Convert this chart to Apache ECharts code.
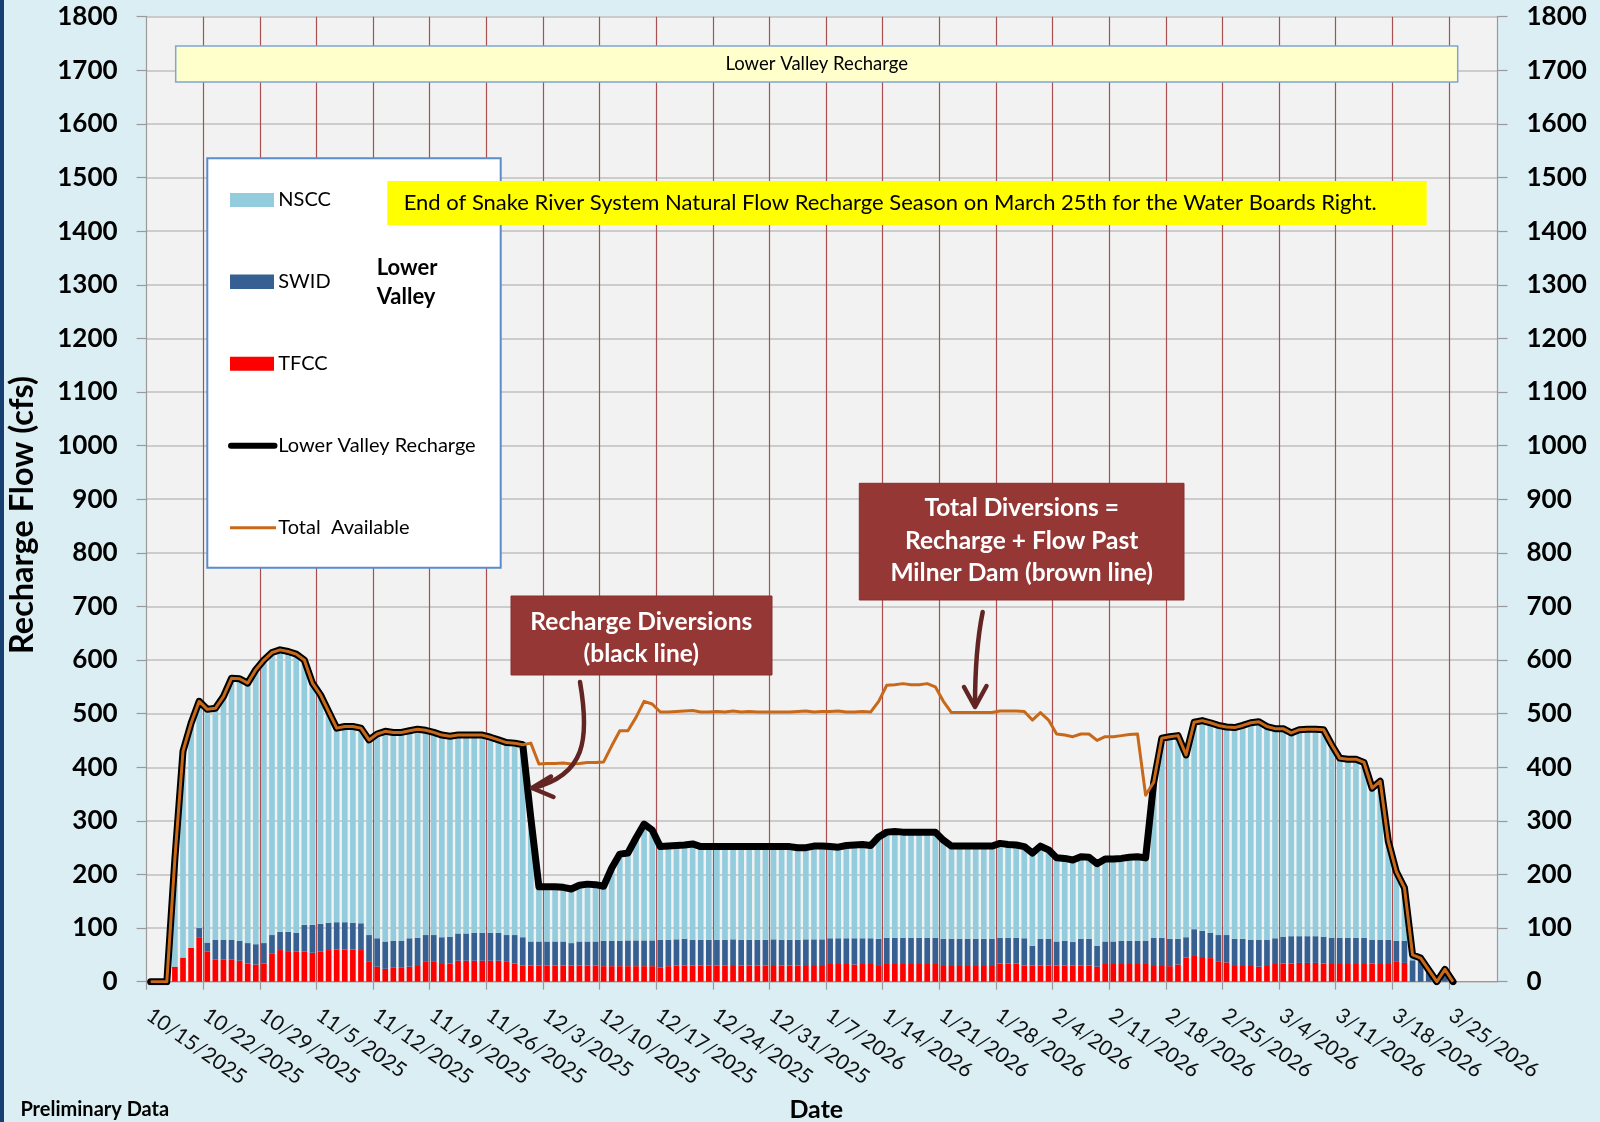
<!DOCTYPE html>
<html>
<head>
<meta charset="utf-8">
<title>Lower Valley Recharge</title>
<script src="https://cdn.jsdelivr.net/npm/echarts@6/dist/echarts.min.js"></script>
<style>
  html, body { margin: 0; padding: 0; background: #DAEEF3; }
  #chart { width: 1600px; height: 1122px; }
</style>
</head>
<body>
<div id="chart"></div>
<script>
// ---- Dates: one slot per day, 10/15/2025 .. 3/30/2026, plus the closing boundary 3/31/2026 ----
const tickDates = [];
for (let i = 0; i < 168; i++) {
  const d = new Date(Date.UTC(2025, 9, 15 + i));
  tickDates.push((d.getUTCMonth() + 1) + '/' + d.getUTCDate() + '/' + d.getUTCFullYear());
}
const days = tickDates.slice(0, 167);

// ---- Daily recharge diversions by canal company (cfs), 10/15/2025 .. 3/25/2026 ----
const tfcc = [
  0, 0, 0, 28, 45, 63, 83, 56, 41, 41,
  41, 39, 34, 32, 34, 52, 59, 57, 56, 56,
  54, 56, 59, 60, 60, 60, 59, 37, 28, 24,
  26, 26, 28, 31, 37, 37, 33, 34, 39, 39,
  39, 39, 39, 39, 37, 34, 30, 30, 30, 30,
  30, 30, 30, 30, 30, 30, 29, 29, 29, 29,
  29, 29, 29, 26, 29, 30, 30, 30, 30, 30,
  30, 30, 31, 30, 30, 30, 30, 31, 30, 30,
  30, 31, 31, 31, 33, 33, 33, 32, 33, 33,
  31, 33, 33, 33, 33, 33, 33, 33, 31, 31,
  31, 31, 31, 31, 31, 34, 34, 34, 30, 30,
  30, 30, 30, 30, 30, 30, 30, 28, 33, 33,
  33, 33, 33, 33, 31, 31, 29, 32, 45, 48,
  46, 44, 37, 36, 31, 31, 31, 28, 31, 33,
  34, 34, 35, 35, 35, 34, 33, 33, 33, 33,
  33, 34, 33, 33, 37, 35, 0, 0, 0, 0,
  0, 0
];
const swid = [
  0, 0, 0, 0, 0, 0, 17, 17, 37, 37,
  37, 37, 38, 38, 38, 35, 34, 36, 35, 50,
  52, 52, 51, 51, 51, 50, 50, 50, 53, 51,
  50, 50, 53, 51, 50, 50, 50, 50, 51, 51,
  52, 52, 52, 52, 50, 53, 53, 45, 45, 45,
  45, 45, 42, 45, 45, 45, 47, 47, 47, 48,
  48, 48, 48, 52, 49, 49, 50, 48, 48, 48,
  48, 48, 48, 48, 48, 48, 48, 48, 48, 48,
  48, 48, 48, 48, 48, 48, 48, 49, 48, 48,
  49, 49, 49, 49, 49, 49, 49, 49, 49, 49,
  49, 49, 49, 49, 49, 48, 48, 48, 51, 37,
  50, 50, 45, 46, 44, 50, 50, 39, 42, 42,
  43, 43, 43, 43, 51, 51, 51, 48, 38, 50,
  49, 47, 50, 51, 49, 49, 47, 50, 47, 48,
  50, 51, 50, 50, 50, 50, 49, 49, 49, 49,
  49, 44, 45, 45, 39, 41, 40, 40, 22, 0,
  18, 0
];
const nscc = [
  0, 0, 0, 202, 385, 419, 423, 435, 432, 454,
  488, 489, 485, 512, 528, 527, 526, 523, 520, 494,
  451, 427, 394, 362, 365, 366, 364, 364, 381, 392,
  389, 389, 387, 389, 382, 378, 377, 374, 370, 370,
  369, 369, 365, 360, 359, 358, 359, 230, 102, 102,
  102, 101, 101, 105, 107, 106, 102, 136, 162, 163,
  191, 217, 206, 174, 175, 175, 175, 179, 174, 174,
  174, 174, 173, 174, 174, 174, 174, 173, 174, 174,
  172, 171, 174, 174, 171, 170, 173, 174, 175, 173,
  190, 197, 198, 197, 197, 197, 197, 197, 184, 173,
  173, 173, 173, 173, 173, 176, 174, 173, 171, 173,
  173, 166, 156, 154, 153, 153, 152, 153, 154, 154,
  154, 156, 157, 155, 290, 372, 377, 379, 340, 386,
  392, 392, 391, 388, 394, 398, 405, 407, 398, 391,
  388, 379, 385, 386, 386, 386, 360, 335, 333, 333,
  327, 283, 296, 184, 129, 99, 10, 4, 0, 0,
  5, 0
];

// ---- Lower Valley recharge total (black line) and total available (brown line), cfs ----
const recharge = [
  0, 0, 0, 230, 430, 482, 523, 508, 510, 532,
  566, 565, 557, 582, 600, 614, 619, 616, 611, 600,
  557, 535, 504, 473, 476, 476, 473, 451, 462, 467,
  465, 465, 468, 471, 469, 465, 460, 458, 460, 460,
  460, 460, 456, 451, 446, 445, 442, 305, 177, 177,
  177, 176, 173, 180, 182, 181, 178, 212, 238, 240,
  268, 294, 283, 252, 253, 254, 255, 257, 252, 252,
  252, 252, 252, 252, 252, 252, 252, 252, 252, 252,
  250, 250, 253, 253, 252, 251, 254, 255, 256, 254,
  270, 279, 280, 279, 279, 279, 279, 279, 264, 253,
  253, 253, 253, 253, 253, 258, 256, 255, 252, 240,
  253, 246, 231, 230, 227, 233, 232, 220, 229, 229,
  230, 232, 233, 231, 372, 454, 457, 459, 423, 484,
  487, 483, 478, 475, 474, 478, 483, 485, 476, 472,
  472, 464, 470, 471, 471, 470, 442, 417, 415, 415,
  409, 361, 374, 262, 205, 175, 50, 44, 22, 0,
  23, 0
];
const totalAvailable = [
  0, 0, 0, 230, 430, 482, 523, 508, 510, 532,
  566, 565, 557, 582, 600, 614, 619, 616, 611, 600,
  557, 535, 504, 473, 476, 476, 473, 451, 462, 467,
  465, 465, 468, 471, 469, 465, 460, 458, 460, 460,
  460, 460, 456, 451, 446, 445, 442, 445, 406, 407,
  407, 408, 406, 407, 409, 409, 410, 440, 468, 468,
  493, 523, 518, 503, 503, 504, 505, 506, 503, 503,
  504, 503, 505, 503, 504, 503, 503, 503, 503, 503,
  504, 505, 503, 504, 504, 505, 503, 503, 504, 503,
  523, 553, 554, 556, 554, 554, 556, 550, 523, 502,
  502, 502, 502, 502, 502, 505, 505, 505, 504, 488,
  502, 488, 462, 460, 457, 462, 462, 450, 457, 457,
  459, 461, 462, 348, 372, 454, 457, 459, 423, 484,
  487, 483, 478, 475, 474, 478, 483, 485, 476, 472,
  472, 464, 470, 471, 471, 470, 442, 417, 415, 415,
  409, 361, 374, 262, 205, 175, 50, 44, 22, 0,
  23, 0
];

// ---- Styling ----
const FONT = 'Lato, "Open Sans", sans-serif';
const AXIS_GRAY = '#9A9A9A';
const C_NSCC = '#93CDDD';
const C_SWID = '#376092';
const C_TFCC = '#FF0000';
const C_BROWN = '#C8691A';
const C_NOTE = '#953735';
const C_ARROW = '#632523';

const weekly = (idx) => idx % 7 === 0;

const yAxisBase = {
  type: 'value', min: 0, max: 1800, interval: 100,
  axisLine: { show: true, lineStyle: { color: AXIS_GRAY, width: 1.2 } },
  axisTick: { show: true, length: 10, lineStyle: { color: AXIS_GRAY, width: 1.2 } },
  axisLabel: { margin: 29, fontSize: 26, fontWeight: 'bold', color: '#000', fontFamily: FONT,
               formatter: (v) => String(v) }
};

function txt(x, y, text, font, opts) {
  return {
    type: 'text', x: x, y: y, z: (opts && opts.z) || 22, rotation: (opts && opts.rotation) || 0,
    style: { text: text, font: font, fill: (opts && opts.fill) || '#000',
             align: (opts && opts.align) || 'left', verticalAlign: 'middle',
             lineHeight: (opts && opts.lineHeight) || undefined }
  };
}

const graphics = [
  // left frame strip
  { type: 'rect', z: 50, shape: { x: 0, y: 0, width: 4, height: 1122 }, style: { fill: '#173F74' } },

  // header box
  { type: 'rect', z: 20, shape: { x: 175.7, y: 46, width: 1282, height: 36 },
    style: { fill: '#FFFFCC', stroke: '#7FA4D6', lineWidth: 1.5 } },
  txt(816.7, 64, 'Lower Valley Recharge', '18.5px ' + FONT, { align: 'center', z: 21 }),

  // legend
  { type: 'rect', z: 20, shape: { x: 207.3, y: 158.3, width: 293.4, height: 409.4 },
    style: { fill: '#FFFFFF', stroke: '#5B8CCB', lineWidth: 2 } },
  { type: 'rect', z: 21, shape: { x: 230, y: 193, width: 44, height: 14 }, style: { fill: C_NSCC } },
  { type: 'rect', z: 21, shape: { x: 230, y: 274.5, width: 44, height: 14.5 }, style: { fill: C_SWID } },
  { type: 'rect', z: 21, shape: { x: 230, y: 356.7, width: 44, height: 14 }, style: { fill: C_TFCC } },
  { type: 'line', z: 21, shape: { x1: 231, y1: 445.7, x2: 274.5, y2: 445.7 },
    style: { stroke: '#000', lineWidth: 6, lineCap: 'round' } },
  { type: 'line', z: 21, shape: { x1: 230, y1: 527.7, x2: 276, y2: 527.7 },
    style: { stroke: C_BROWN, lineWidth: 3 } },
  txt(278.3, 200, 'NSCC', '20px ' + FONT),
  txt(278.3, 281.7, 'SWID', '20px ' + FONT),
  txt(278.3, 363.7, 'TFCC', '20px ' + FONT),
  txt(278.3, 445.7, 'Lower Valley Recharge', '20px ' + FONT),
  txt(278.3, 527.7, 'Total  Available', '20px ' + FONT),
  txt(376.7, 268.3, 'Lower', 'bold 22px ' + FONT),
  txt(376.7, 296.7, 'Valley', 'bold 22px ' + FONT),

  // season note
  { type: 'rect', z: 24, shape: { x: 387.3, y: 181, width: 1039.4, height: 44 }, style: { fill: '#FFFF00' } },
  txt(403.7, 203, 'End of Snake River System Natural Flow Recharge Season on March 25th for the Water Boards Right.',
      '22px ' + FONT, { z: 25 }),

  // recharge diversions callout
  { type: 'rect', z: 24, shape: { x: 511, y: 596, width: 261, height: 79 }, style: { fill: C_NOTE, stroke: '#86302E', lineWidth: 1 } },
  txt(641.3, 637.9, 'Recharge Diversions\n(black line)', 'bold 24.5px ' + FONT,
      { z: 25, fill: '#FFFFFF', align: 'center', lineHeight: 32.3 }),
  { type: 'bezierCurve', z: 26,
    shape: { x1: 580, y1: 682, cpx1: 590, cpy1: 740, cpx2: 585, cpy2: 775, x2: 533, y2: 788 },
    style: { stroke: C_ARROW, lineWidth: 4.5, fill: null, lineCap: 'round' } },
  { type: 'polyline', z: 26, shape: { points: [[551, 776.5], [532, 788], [553.5, 797]] },
    style: { stroke: C_ARROW, lineWidth: 4.5, fill: null, lineCap: 'round', lineJoin: 'round' } },

  // total diversions callout
  { type: 'rect', z: 24, shape: { x: 859.3, y: 483.3, width: 324.7, height: 116.7 }, style: { fill: C_NOTE, stroke: '#86302E', lineWidth: 1 } },
  txt(1021.7, 540.6, 'Total Diversions =\nRecharge + Flow Past\nMilner Dam (brown line)', 'bold 24.5px ' + FONT,
      { z: 25, fill: '#FFFFFF', align: 'center', lineHeight: 32.2 }),
  { type: 'bezierCurve', z: 26,
    shape: { x1: 982.7, y1: 612, cpx1: 977, cpy1: 640, cpx2: 975, cpy2: 680, x2: 975, y2: 706 },
    style: { stroke: C_ARROW, lineWidth: 4.5, fill: null, lineCap: 'round' } },
  { type: 'polyline', z: 26, shape: { points: [[964, 687], [975, 707], [986.5, 686]] },
    style: { stroke: C_ARROW, lineWidth: 4.5, fill: null, lineCap: 'round', lineJoin: 'round' } },

  // axis titles and footnote
  txt(22.5, 515, 'Recharge Flow (cfs)', 'bold 32.5px ' + FONT, { align: 'center', rotation: Math.PI / 2 }),
  txt(816.3, 1110, 'Date', 'bold 25px ' + FONT, { align: 'center' }),
  txt(20.4, 1110, 'Preliminary Data', 'bold 20px ' + FONT)
];

const option = {
  backgroundColor: '#DAEEF3',
  animation: false,
  textStyle: { fontFamily: FONT },
  grid: {
    left: 146.6, right: 102.5, top: 16.7, bottom: 140.3,
    show: true, backgroundColor: '#F2F2F2', borderWidth: 0,
    containLabel: false, outerBoundsMode: 'none'
  },
  xAxis: [
    { type: 'category', data: days, boundaryGap: true, show: false },
    {
      type: 'category', data: tickDates, boundaryGap: false, position: 'bottom',
      axisLine: { show: true, lineStyle: { color: AXIS_GRAY, width: 1.2 } },
      axisTick: { show: true, interval: weekly, length: 8, lineStyle: { color: AXIS_GRAY, width: 1.2 } },
      axisLabel: {
        show: true, interval: weekly, rotate: -35, align: 'left', verticalAlign: 'top',
        margin: 17, padding: [0, 0, 0, 10], fontSize: 21, color: '#111', fontFamily: FONT
      },
      splitLine: { show: true, interval: (idx) => idx > 0 && idx % 7 === 0,
                   lineStyle: { color: '#A94F4F', width: 1.2 } }
    }
  ],
  yAxis: [
    Object.assign({}, yAxisBase, { position: 'left',
      splitLine: { show: true, lineStyle: { color: '#BFBFBF', width: 1.5 } } }),
    Object.assign({}, yAxisBase, { position: 'right', splitLine: { show: false } })
  ],
  series: [
    { name: 'TFCC', type: 'bar', stack: 'lv', data: tfcc, barWidth: '70%',
      itemStyle: { color: C_TFCC }, xAxisIndex: 0, yAxisIndex: 0 },
    { name: 'SWID', type: 'bar', stack: 'lv', data: swid, barWidth: '70%',
      itemStyle: { color: C_SWID }, xAxisIndex: 0, yAxisIndex: 0 },
    { name: 'NSCC', type: 'bar', stack: 'lv', data: nscc, barWidth: '70%',
      itemStyle: { color: C_NSCC }, xAxisIndex: 0, yAxisIndex: 0 },
    { name: 'Lower Valley Recharge', type: 'line', data: recharge, symbol: 'none', z: 5,
      itemStyle: { color: '#000' },
      lineStyle: { color: '#000', width: 7, cap: 'round', join: 'round' },
      xAxisIndex: 0, yAxisIndex: 0 },
    { name: 'Total  Available', type: 'line', data: totalAvailable, symbol: 'none', z: 6,
      itemStyle: { color: C_BROWN },
      lineStyle: { color: C_BROWN, width: 3, join: 'round' },
      xAxisIndex: 0, yAxisIndex: 0 }
  ],
  graphic: graphics
};

const chart = echarts.init(document.getElementById('chart'), null, { renderer: 'canvas', width: 1600, height: 1122 });
chart.setOption(option);
</script>
</body>
</html>
